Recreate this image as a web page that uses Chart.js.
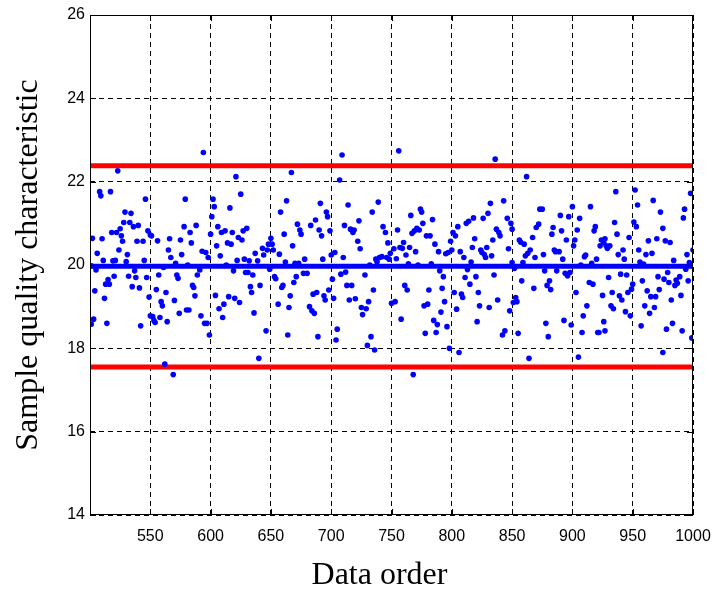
<!DOCTYPE html>
<html>
<head>
<meta charset="utf-8">
<script src="https://cdn.jsdelivr.net/npm/chart.js@4/dist/chart.umd.min.js"></script>
<style>
  html, body { margin: 0; padding: 0; background: #fff; }
  #wrap { width: 717px; height: 595px; }
</style>
</head>
<body>
<div id="wrap"><canvas id="chart" width="717" height="595"></canvas></div>
<script>
var dataOrder = [
  523,508,509,517,546,529,534,528,533,540,536,525,518,522,526,548,502,510,527,539,544,550,524,506,531,511,519,521,530,545,501,505,537,532,538,520,547,515,513,516,535,541,504,512,549,503,501,514,542,550,
  594,579,578,588,583,551,556,566,575,584,565,567,576,593,596,598,561,571,581,591,557,572,573,589,585,586,555,563,587,559,560,570,580,582,574,552,558,553,554,564,592,595,597,599,562,569,
  621,625,602,603,616,601,606,612,609,618,627,630,600,623,626,614,617,605,648,643,647,637,644,608,628,622,632,639,613,619,629,631,635,649,633,641,634,604,615,620,624,611,607,610,636,646,640,
  667,663,658,691,696,697,672,674,675,687,683,690,692,699,661,650,651,652,668,657,678,693,662,670,673,677,680,653,654,671,669,660,659,698,694,695,688,685,666,656,665,682,684,686,664,689,
  709,707,714,739,734,723,711,716,719,718,743,745,722,724,747,703,700,710,749,737,740,742,746,748,738,732,712,708,728,701,713,717,735,702,715,720,725,726,729,731,750,705,704,733,730,736,
  756,774,775,766,784,776,771,773,769,767,755,779,782,786,760,765,752,757,759,770,762,754,789,795,797,764,772,783,790,793,761,763,781,792,753,794,780,777,791,758,785,788,796,778,787,798,768,
  836,843,832,830,826,818,814,812,846,849,850,805,801,803,799,837,839,840,819,834,817,824,825,827,828,829,833,847,800,807,810,816,813,811,820,815,835,802,808,809,822,823,831,838,848,804,821,842,844,806,
  862,873,875,890,897,872,870,884,891,883,867,856,857,860,895,865,863,861,885,886,889,876,869,892,850,852,859,877,887,894,896,898,858,881,879,882,868,853,854,851,878,893,899,855,880,864,
  936,900,915,906,935,919,918,904,937,947,902,901,924,927,926,923,929,931,928,942,938,943,911,910,920,907,916,940,945,930,914,917,949,946,903,933,939,941,925,932,934,912,944,948,909,926,908,921,922,927,905,
  952,998,954,967,973,993,992,951,953,975,970,963,977,981,955,1000,961,966,995,956,959,984,997,999,994,979,971,976,980,985,987,986,989,996,950,958,972,962,965,969,990,982,960,968,964,957,983,978,991,999,975
];
var quality = [
  22.26,21.76,21.66,21.76,21.58,21.27,21.24,21.02,21.02,20.95,20.92,20.87,20.78,20.78,20.70,20.82,20.64,20.63,20.57,20.57,20.57,20.72,20.36,20.28,20.25,20.11,20.10,20.11,20.08,20.11,19.98,19.88,19.86,19.73,19.70,19.73,19.70,19.65,19.54,19.54,19.48,19.45,19.38,19.20,19.23,18.70,18.58,18.60,18.54,18.78,
  22.70,21.58,20.92,20.95,20.78,20.70,20.58,20.63,20.60,20.53,20.36,20.18,20.25,20.33,20.30,20.18,19.94,20.04,20.00,19.88,19.76,19.76,19.68,19.76,19.51,19.46,19.41,19.34,19.26,19.12,19.02,19.15,18.92,18.92,18.84,18.76,18.74,18.67,18.62,18.64,18.78,18.60,18.60,18.32,17.62,17.37,
  22.12,21.70,21.58,21.40,21.37,21.16,20.92,20.82,20.78,20.78,20.82,20.88,20.74,20.66,20.60,20.53,20.50,20.46,20.50,20.40,20.36,20.28,20.24,20.22,20.14,20.11,20.10,20.10,20.00,19.86,19.82,19.82,19.76,19.90,19.48,19.51,19.34,19.27,19.24,19.20,19.10,19.06,18.95,18.74,18.85,18.42,17.76,
  22.22,21.54,21.27,21.48,21.27,21.16,20.98,20.84,20.74,21.08,20.95,20.84,20.70,20.82,20.74,20.64,20.50,20.36,20.46,20.26,20.14,20.14,20.07,20.04,20.04,19.80,19.80,19.72,19.67,19.72,19.58,19.51,19.46,19.40,19.26,19.16,19.34,19.30,19.26,19.06,18.98,19.00,18.90,18.84,18.32,18.28,
  22.64,22.04,21.44,21.51,21.27,21.06,20.95,20.86,20.84,20.78,20.92,20.78,20.57,20.39,20.53,20.30,20.24,20.18,20.28,20.14,20.18,20.20,20.18,20.14,20.08,20.00,19.83,19.78,19.76,19.66,19.51,19.51,19.40,19.20,19.16,19.19,18.98,18.81,18.95,19.12,19.08,18.46,18.20,18.28,18.07,17.96,
  22.74,21.34,21.27,21.19,21.09,21.00,20.88,20.84,20.82,20.76,20.84,20.70,20.70,20.50,20.54,20.42,20.39,20.42,20.40,20.32,20.24,20.15,20.32,20.27,20.30,20.03,20.00,20.03,19.86,19.72,19.51,19.40,19.40,19.44,19.12,19.12,19.06,19.02,18.87,18.70,18.67,18.57,18.52,18.36,18.38,18.00,17.37,
  22.54,21.54,21.48,21.24,21.12,21.13,21.05,21.00,21.12,21.00,20.86,20.92,20.78,20.70,20.57,20.86,20.78,20.70,20.63,20.60,20.42,20.36,20.30,20.25,20.18,20.42,20.22,20.39,20.36,20.32,20.18,20.07,19.89,19.70,19.72,19.54,19.76,19.34,19.30,19.22,19.34,19.02,18.98,19.16,18.90,18.94,18.64,18.32,18.42,17.90,
  22.12,21.34,21.34,21.19,21.16,20.98,20.90,20.90,20.82,20.74,20.66,20.60,20.55,20.50,20.60,20.36,20.28,20.22,20.36,20.32,20.32,20.25,20.18,20.14,20.06,19.92,20.06,19.86,19.86,19.80,19.74,19.82,19.62,19.62,19.51,19.41,19.44,19.22,19.12,19.10,18.60,18.67,18.56,18.36,18.28,17.76,
  21.76,21.40,21.40,21.12,21.02,20.92,20.82,20.84,20.74,20.66,20.60,20.46,20.60,20.63,20.54,20.46,20.40,20.46,20.46,20.36,20.25,20.14,20.24,20.20,20.14,20.00,20.04,19.78,19.76,19.70,19.58,19.54,19.42,19.34,19.34,19.34,19.26,19.16,19.27,19.02,18.95,19.02,18.88,18.78,18.78,18.64,18.38,18.38,18.38,18.42,17.79,
  21.80,21.72,21.44,21.55,21.27,21.34,21.13,21.03,20.92,20.88,20.63,20.58,20.58,20.54,20.36,20.36,20.25,20.28,20.25,20.07,20.02,20.11,20.06,19.98,19.90,19.82,19.72,19.66,19.58,19.51,19.56,19.64,19.72,19.62,19.54,19.62,19.41,19.38,19.24,19.24,19.27,19.16,19.02,18.98,18.84,18.54,18.60,18.46,18.42,18.25,17.90
];

var upperLimit = 22.38;
var centerLine = 19.97;
var lowerLimit = 17.55;
var xMin = 500, xMax = 1000, xStep = 50;
var yMin = 14, yMax = 26, yStep = 2;

var points = dataOrder.map(function(x, i) { return { x: x, y: quality[i] }; });

function hline(v) {
    return [{ x: xMin, y: v }, { x: xMax, y: v }];
}

// box around the plot + inward tick marks (matlab style)
var framePlugin = {
    id: 'frame',
    afterDraw: function(chart) {
        var ctx = chart.ctx;
        var a = chart.chartArea;
        var xs = chart.scales.x, ys = chart.scales.y;
        ctx.save();
        ctx.strokeStyle = '#000';
        ctx.lineWidth = 1;
        ctx.strokeRect(a.left + 0.5, a.top + 0.5, a.right - a.left - 1, a.bottom - a.top - 1);
        ctx.beginPath();
        xs.ticks.forEach(function(t) {
            var px = Math.round(xs.getPixelForValue(t.value)) + 0.5;
            ctx.moveTo(px, a.bottom); ctx.lineTo(px, a.bottom - 6);
            ctx.moveTo(px, a.top); ctx.lineTo(px, a.top + 6);
        });
        ys.ticks.forEach(function(t) {
            var py = Math.round(ys.getPixelForValue(t.value)) + 0.5;
            ctx.moveTo(a.left, py); ctx.lineTo(a.left + 6, py);
            ctx.moveTo(a.right, py); ctx.lineTo(a.right - 6, py);
        });
        ctx.stroke();
        ctx.restore();
    }
};

var tickFont = { family: "'Liberation Sans', Arial, sans-serif", size: 16 };
var titleFont = { family: "'Liberation Serif', 'Times New Roman', serif", size: 32 };

const ctx = document.getElementById('chart');

var myChart = new Chart(ctx, {
    type: 'scatter',
    data: {
        datasets: [
            {
                type: 'scatter',
                label: 'samples',
                data: points,
                backgroundColor: '#0000ff',
                borderWidth: 0,
                pointRadius: 2.8
            },
            {
                type: 'line',
                label: 'CL',
                data: hline(centerLine),
                borderColor: '#0000ff',
                borderWidth: 5,
                pointRadius: 0
            },
            {
                type: 'line',
                label: 'UCL',
                data: hline(upperLimit),
                borderColor: '#ff0000',
                borderWidth: 5,
                pointRadius: 0
            },
            {
                type: 'line',
                label: 'LCL',
                data: hline(lowerLimit),
                borderColor: '#ff0000',
                borderWidth: 5,
                pointRadius: 0
            }
        ]
    },
    options: {
        responsive: false,
        animation: false,
        layout: { padding: { left: 0, right: 24, top: 15, bottom: 0 } },
        plugins: { legend: { display: false }, tooltip: { enabled: false } },
        scales: {
            x: {
                type: 'linear',
                min: xMin,
                max: xMax,
                afterFit: function(s) { s.height = 80; s.paddingLeft = 0; s.paddingRight = 0; },
                ticks: {
                    stepSize: xStep,
                    autoSkip: false,
                    maxRotation: 0,
                    padding: 12,
                    color: '#000',
                    font: tickFont,
                    callback: function(v) { return v === xMin ? '' : v; }
                },
                grid: { color: '#000', lineWidth: 1, drawTicks: false },
                border: { display: false, dash: [5, 4] },
                // trailing spaces nudge the centred label a bit left, as in the original
                title: { display: true, text: 'Data order   ', color: '#000', font: titleFont, padding: { top: 0, bottom: 0 } }
            },
            y: {
                type: 'linear',
                min: yMin,
                max: yMax,
                afterFit: function(s) { s.width = 90; s.paddingTop = 0; s.paddingBottom = 0; },
                ticks: {
                    stepSize: yStep,
                    padding: 5,
                    color: '#000',
                    font: tickFont
                },
                grid: { color: '#000', lineWidth: 1, drawTicks: false },
                border: { display: false, dash: [5, 4] },
                title: { display: true, text: 'Sample quality characteristic', color: '#000', font: titleFont, padding: { top: 9, bottom: 0 } }
            }
        }
    },
    plugins: [framePlugin]
});
</script>
</body>
</html>
